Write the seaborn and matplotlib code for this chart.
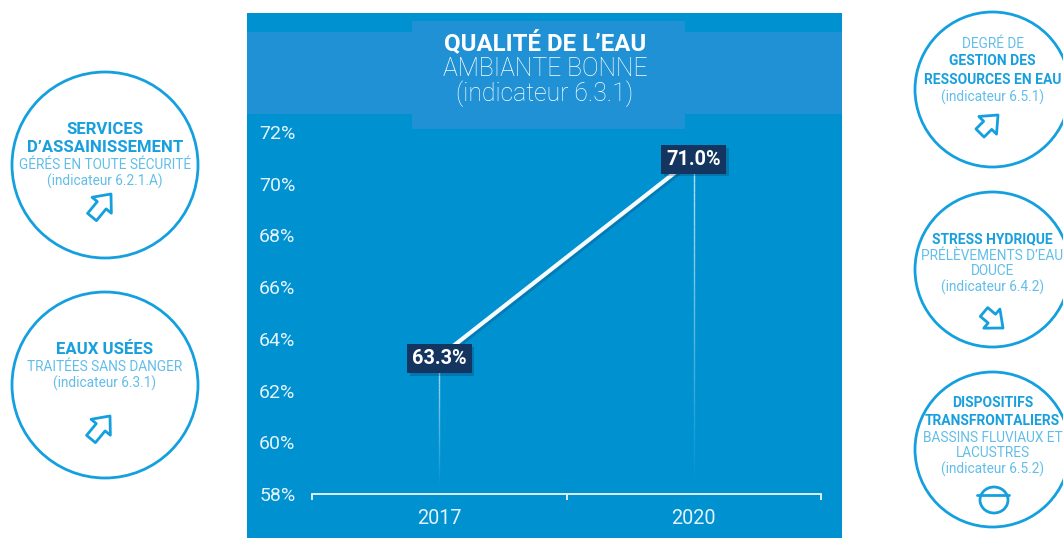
import numpy as np
import pandas as pd
import matplotlib.pyplot as plt
import matplotlib.patheffects as pe
from matplotlib.collections import LineCollection
from matplotlib.patches import Circle, Rectangle, Ellipse
import seaborn as sns

# chart values
years = ['2017', '2020']
values = [63.3, 71.0]
y_ticks = [58, 60, 62, 64, 66, 68, 70, 72]

# colours
PANEL = '#0091D1'
BAND = '#2091D5'
NAVY = '#13355F'
CIRCLE = '#14A0DE'
BOLD_TXT = '#18A0DE'
LIGHT_TXT = '#62BEE9'
W, H = 1063, 538

sns.set_theme(style='white')
plt.rcParams['font.family'] = ['Roboto', 'DejaVu Sans']

fig = plt.figure(figsize=(W / 100, H / 100), dpi=100, facecolor='white')

# background layer works in pixels of the picture
bg = fig.add_axes([0, 0, 1, 1])
bg.set_xlim(0, W)
bg.set_ylim(H, 0)
bg.axis('off')
bg.add_patch(Rectangle((247, 13), 595, 525, fc=PANEL, ec='none'))
bg.add_patch(Rectangle((247, 32), 595, 82, fc=BAND, ec='none'))
bg.add_patch(Rectangle((412, 21), 273, 108, fc=BAND, ec='none'))
bg.text(545, 43, 'QUALITÉ DE L’EAU', color='white', fontsize=17.3, fontweight='bold', ha='center', va='center')
bg.text(545, 68.5, 'AMBIANTE BONNE', color='white', fontsize=17.8, fontweight='light', ha='center', va='center')
bg.text(545, 93.5, '(indicateur 6.3.1)', color='white', fontsize=17.8, fontweight='light', ha='center', va='center')

# the side circles: centre x, centre y, radius, bold size, text lines
circles = [
    (105, 165, 93, 12.1, [('SERVICES', 129, 1), ('D’ASSAINISSEMENT', 147, 1),
                          ('GÉRÉS EN TOUTE SÉCURITÉ', 164, 0), ('(indicateur 6.2.1.A)', 180, 0)]),
    (105, 385, 93, 12.1, [('EAUX USÉES', 349, 1), ('TRAITÉES SANS DANGER', 366, 0),
                          ('(indicateur 6.3.1)', 382, 0)]),
    (992.5, 89.5, 77.5, 10, [('DEGRÉ DE', 43, 0), ('GESTION DES', 60, 1),
                             ('RESSOURCES EN EAU', 79, 1), ('(indicateur 6.5.1)', 96, 0)]),
    (992.5, 269.5, 77.5, 10, [('STRESS HYDRIQUE', 238, 1), ('PRÉLÈVEMENTS D’EAU', 255, 0),
                              ('DOUCE', 270, 0), ('(indicateur 6.4.2)', 286, 0)]),
    (992.5, 449.5, 77.5, 10, [('DISPOSITIFS', 402, 1), ('TRANSFRONTALIERS', 420, 1),
                              ('BASSINS FLUVIAUX ET', 437, 0), ('LACUSTRES', 452, 0),
                              ('(indicateur 6.5.2)', 468, 0)]),
]
for cx, cy, r, bold_size, lines in circles:
    bg.add_patch(Circle((cx, cy), r, fc='white', ec=CIRCLE, lw=2))
    for txt, ty, bold in lines:
        bg.text(cx, ty + 1, txt, ha='center', va='center',
                color=BOLD_TXT if bold else LIGHT_TXT,
                fontsize=bold_size if bold else 9.8,
                fontweight='bold' if bold else 'normal')

# hollow trend arrows
arrows = [((92, 217), (111, 194)), ((91, 439), (110, 416)), ((980, 133), (998, 115)),
          ((984, 312), (1003, 328))]
for tail, tip in arrows:
    bg.annotate('', xy=tip, xytext=tail,
                arrowprops=dict(arrowstyle='simple,head_length=0.7,head_width=1.2,tail_width=0.55',
                                fc='white', ec=CIRCLE, lw=2, shrinkA=0, shrinkB=0, mutation_scale=15))
bg.add_patch(Ellipse((994, 500), 28, 26, fc='none', ec=CIRCLE, lw=2))
bg.plot([977, 1009], [495, 495], color=CIRCLE, lw=2)

# main chart
left, right, top, bottom = 312, 821, 132, 494
ax = fig.add_axes([left / W, 1 - bottom / H, (right - left) / W, (bottom - top) / H])
ax.patch.set_alpha(0)
df = pd.DataFrame({'year': years, 'value': values})
sns.lineplot(data=df, x='year', y='value', ax=ax, color='#F6FBFE', lw=3, zorder=3,
             path_effects=[pe.SimpleLineShadow(offset=(1.5, -1.5), alpha=0.25, shadow_color='#0A3A60'), pe.Normal()])
ax.set_xlim(-0.5, 1.5)
ax.set_ylim(58, 72)
ax.set_xlabel('')
ax.set_ylabel('')
sns.despine(ax=ax, left=True, top=True, right=True)
ax.spines['bottom'].set_color('white')
ax.spines['bottom'].set_linewidth(1.2)
ax.set_yticks(y_ticks)
ax.set_yticklabels([f'{v}%' for v in y_ticks])
ax.set_xticks([-0.5, 0.5, 1.5], minor=True)
ax.tick_params(axis='x', which='major', length=0, pad=11, labelcolor='#E4F3FB', labelsize=14.3)
ax.tick_params(axis='x', which='minor', bottom=True, length=4, width=1.2, color='white')
ax.tick_params(axis='y', length=0, pad=12, labelcolor='#E4F3FB', labelsize=14)

# drop lines fade towards the axis
for i, v in enumerate(values):
    ys = np.linspace(v, 58.2, 40)
    segs = [[(i, ys[k]), (i, ys[k + 1])] for k in range(39)]
    alphas = np.linspace(0.75, 0.0, 39)
    ax.add_collection(LineCollection(segs, colors=[(1, 1, 1, a) for a in alphas], linewidths=1, zorder=2))

# value labels
for i, v in enumerate(values):
    t = ax.annotate(f'{v:.1f}%', xy=(i, v), xytext=(0, -1), textcoords='offset points',
                    color='white', fontsize=14.3, fontweight='bold',
                    ha='center', va='center', zorder=5,
                    bbox=dict(boxstyle='square,pad=0.25', fc=NAVY, ec='none'))
    t.get_bbox_patch().set_path_effects([pe.withSimplePatchShadow(offset=(2, -2), alpha=0.25, shadow_rgbFace='#0A2A45')])

fig.savefig('out.png', dpi=100)
